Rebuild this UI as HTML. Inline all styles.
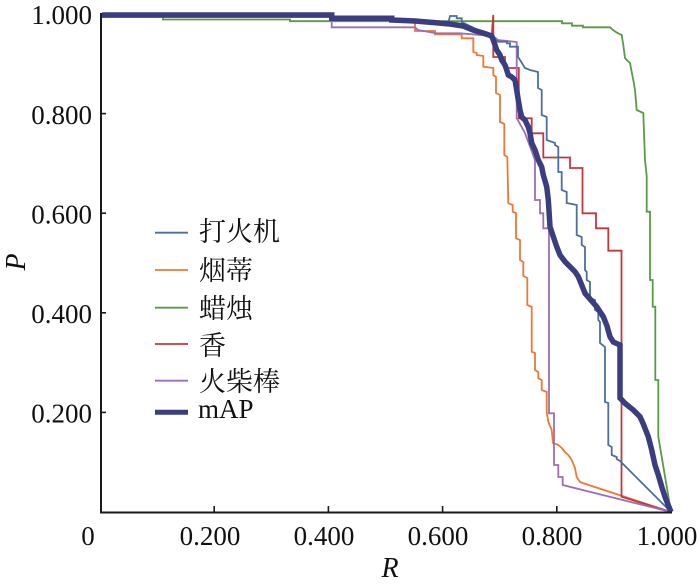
<!DOCTYPE html>
<html>
<head>
<meta charset="utf-8">
<style>
  html, body { margin: 0; padding: 0; background: #ffffff; }
  svg { display: block; }
  .tk { font-family: "Liberation Serif", "Noto Serif CJK SC", serif; font-size: 27px; fill: #111; }
  .lg { font-family: "Liberation Serif", "Noto Serif CJK SC", serif; font-size: 27px; fill: #111; }
  .ax { font-family: "Liberation Serif", serif; font-size: 28px; font-style: italic; fill: #111; }
  polyline { fill: none; stroke-linejoin: miter; stroke-linecap: butt; }
</style>
</head>
<body>
<svg width="700" height="585" viewBox="0 0 700 585" xmlns="http://www.w3.org/2000/svg">
  <rect x="0" y="0" width="700" height="585" fill="#ffffff"/>

  <!-- series -->
  <polyline stroke="#5a9a46" stroke-width="1.8" points="101,14 163,14 163,19.5 290,19.5 290,21.2 562,21.2 562,23.3 572,23.3 572,25.7 583,25.7 583,27.3 610,27.3 613,30 617,32.7 621.7,35 623.3,45 625,58 626.7,60 630,63 631.7,72 633.3,80 635,90 636.7,110 643.3,113 645,160 646.7,176 646.7,211.7 650,211.7 650,280 652.7,280 652.7,306.7 655.3,306.7 655.3,380 658.3,380 658.3,436.7 671,512"/>
  <polyline stroke="#ea7a36" stroke-width="1.8" points="101,17 391.7,17 391.7,20 415,20 415,31 435,31 435,34.3 461.7,34.3 461.7,38.3 473.3,38.3 473.3,52 476.7,53 476.7,55 483.3,56 483.3,66.7 493.3,68 493.3,75 496,77 496,93 500,95 500,122 504.3,124 504.3,155 507.3,157 508.3,203.3 512.7,205 512.7,211.7 516,213 516,238.3 520,240 520,260 523.3,262 523.3,276 527.3,278 527.3,305 531.7,307 531.7,351.7 535,353 535,370 538.3,372 538.3,378.3 541.7,380 541.7,390 546.7,392 546.7,412 548.3,421.7 551.7,430 553,443 558.3,445 561.7,448 565,452 568.3,455 571.7,460 575,468 576.7,477 580,482 582.7,483 671,512"/>
  <polyline stroke="#c4373b" stroke-width="1.8" points="101,15 331.7,15 331.7,18.3 391.7,18.3 391.7,20 415,21 433,22.5 450,24 463,26 473,30 483,33 491.7,36 493.3,15 493.3,57 505,57 505,68 518.8,68 518.8,118.3 531.7,118.3 531.7,133.3 543.3,133.3 543.3,157.5 570,157.5 570,168 582.5,168 582.5,213.3 596,213.3 596,228.3 608.3,228.3 608.3,250.7 621.5,250.7 621.5,496.7 671,512"/>
  <polyline stroke="#9a6fb6" stroke-width="1.8" points="101,15 331.7,15 331.7,27.3 415,27.3 418,30 436.7,33.3 460,33.3 493,36 498,40 516.7,42 516.7,118 525,133 535,160 535,200 540,200 540,213.3 543.3,213.3 543.3,228.3 549,228.3 549,413.3 554,413.3 554,465 558.3,465 558.3,477 562.7,477 562.7,485 671,512"/>
  <polyline stroke="#4d6f9c" stroke-width="1.8" points="101,15 331.7,15 331.7,18.3 391.7,18.3 391.7,20 415,21 433,22.5 448,23.8 450,16 456.7,16 456.7,18.3 461.7,18.3 461.7,22 470,26 480,31 490,36 498,41.7 507,41.7 507,43.3 510,43.3 510,46.7 518,46.7 518,57 520,60 525,68 530,70 538,72 538,88 541.7,90 541.7,115 546.7,117 546.7,140 555,143 555,145 558.3,147 558.3,172 561.7,172 561.7,190 566.7,192 566.7,203 576.7,205 576.7,235 581.7,237 581.7,245 585,247 585,270 586.7,272 586.7,280 590,282 590,298 595,300 595,310 598.3,312 598.3,320 600,322 600,343 605,347 605,402 608.3,403 608.3,445 611.7,447 611.7,455 616.7,457 616.7,459 620,461 671,512"/>
  <polyline stroke="#3a3d7f" stroke-width="5.5" points="102,15 331.7,15 331.7,18.3 391.7,18.3 391.7,20 415,21 433,22.5 450,24 463,26 473,30 483,33 491.7,36 493.3,40 495,45 496.7,50 500,55 501.7,60 505,65 506.7,70 508.3,75 511.7,77 515,80 516.7,90 518.3,100 520,110 521.7,117 525,120 528.3,127 530,133 531.7,143 535,150 538.3,160 541.7,167 543.3,175 546.7,186.7 548.3,200 550,226.7 553.3,236.7 556.7,246.7 560,255 565,261.7 570,266.7 575,271.7 578.3,276.7 581.7,285 585,293.3 590,299 596.7,306.7 603.3,316.7 607,326 610,336.7 613.3,342 620,345 620,398 625,403.3 633.3,410 640,416.7 643.3,424 648.3,436.7 651.7,450 655,465 658.3,475 661.7,486.7 665,497 671,512"/>

  <!-- axes -->
  <path d="M101,13 V512.5 H672" fill="none" stroke="#1a1a1a" stroke-width="2"/>
  <g stroke="#1a1a1a" stroke-width="1.6">
    <line x1="101" y1="113.6" x2="106" y2="113.6"/>
    <line x1="101" y1="213.2" x2="106" y2="213.2"/>
    <line x1="101" y1="312.8" x2="106" y2="312.8"/>
    <line x1="101" y1="412.4" x2="106" y2="412.4"/>
    <line x1="214.2" y1="512" x2="214.2" y2="506"/>
    <line x1="328.4" y1="512" x2="328.4" y2="506"/>
    <line x1="442.6" y1="512" x2="442.6" y2="506"/>
    <line x1="556.8" y1="512" x2="556.8" y2="506"/>
  </g>

  <!-- y tick labels -->
  <g class="tk" text-anchor="end">
    <text x="92" y="24">1.000</text>
    <text x="92" y="124">0.800</text>
    <text x="92" y="223.5">0.600</text>
    <text x="92" y="323">0.400</text>
    <text x="92" y="422.5">0.200</text>
  </g>
  <!-- x tick labels -->
  <g class="tk" text-anchor="middle">
    <text x="88" y="545">0</text>
    <text x="210" y="545">0.200</text>
    <text x="324" y="545">0.400</text>
    <text x="438" y="545">0.600</text>
    <text x="552" y="545">0.800</text>
    <text x="667" y="545">1.000</text>
  </g>

  <!-- axis titles -->
  <text class="ax" text-anchor="middle" transform="translate(25,262) rotate(-90)">P</text>
  <text class="ax" x="390" y="577" text-anchor="middle">R</text>

  <!-- legend -->
  <g>
    <line x1="155" y1="232.7" x2="188" y2="232.7" stroke="#4d6f9c" stroke-width="1.8"/>
    <line x1="155" y1="270" x2="188" y2="270" stroke="#ea7a36" stroke-width="1.8"/>
    <line x1="155" y1="307.7" x2="188" y2="307.7" stroke="#5a9a46" stroke-width="1.8"/>
    <line x1="155" y1="344" x2="188" y2="344" stroke="#c4373b" stroke-width="1.8"/>
    <line x1="155" y1="380.7" x2="188" y2="380.7" stroke="#9a6fb6" stroke-width="1.8"/>
    <line x1="155" y1="412.3" x2="188" y2="412.3" stroke="#3a3d7f" stroke-width="5"/>
  </g>
  <g class="lg">
    <text x="199" y="241">打火机</text>
    <text x="199" y="280">烟蒂</text>
    <text x="199" y="318">蜡烛</text>
    <text x="199" y="355">香</text>
    <text x="199" y="391">火柴棒</text>
    <text x="198" y="418">mAP</text>
  </g>
</svg>
</body>
</html>
